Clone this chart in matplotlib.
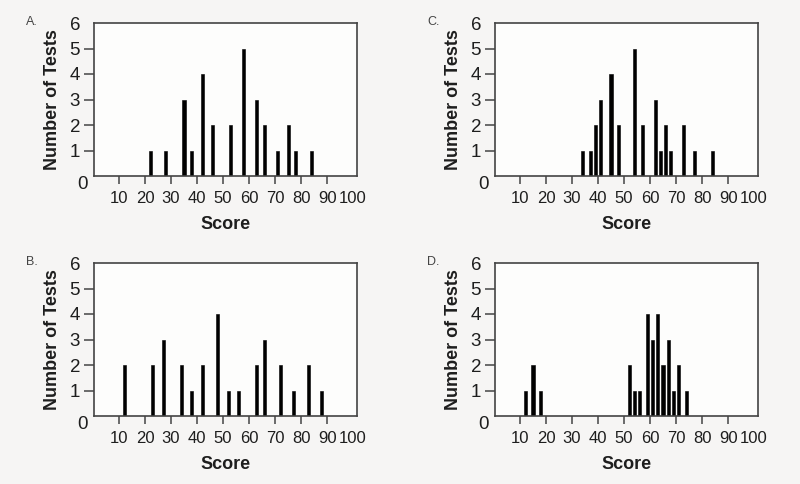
import matplotlib
matplotlib.use("Agg")
import matplotlib.pyplot as plt

plt.rcParams["font.family"] = ["Liberation Sans", "DejaVu Sans"]

# panel data: score of each bar and number of tests at that score
scores_a = [22, 28, 35, 38, 42, 46, 53, 58, 63, 66, 71, 75, 78, 84]
counts_a = [1, 1, 3, 1, 4, 2, 2, 5, 3, 2, 1, 2, 1, 1]

scores_b = [12, 23, 27, 34, 38, 42, 48, 52, 56, 63, 66, 72, 77, 83, 88]
counts_b = [2, 2, 3, 2, 1, 2, 4, 1, 1, 2, 3, 2, 1, 2, 1]

scores_c = [34, 37, 39, 41, 45, 48, 54, 57, 62, 64, 66, 68, 73, 77, 84]
counts_c = [1, 1, 2, 3, 4, 2, 5, 2, 3, 1, 2, 1, 2, 1, 1]

scores_d = [12, 15, 18, 52, 54, 56, 59, 61, 63, 65, 67, 69, 71, 74]
counts_d = [1, 2, 1, 2, 1, 1, 4, 3, 4, 2, 3, 1, 2, 1]

x_ticks = [10, 20, 30, 40, 50, 60, 70, 80, 90, 100]
y_ticks = [1, 2, 3, 4, 5, 6]

W, H = 800, 484
fig = plt.figure(figsize=(8, 4.84), dpi=100, facecolor="#f6f5f4")

panels = [
    ("A.", scores_a, counts_a, (94, 23)),
    ("C.", scores_c, counts_c, (495, 23)),
    ("B.", scores_b, counts_b, (94, 263)),
    ("D.", scores_d, counts_d, (495, 263)),
]

ink = "#1e1e1e"

for letter, scores, counts, (px, py) in panels:
    aw, ah = 263, 153
    ax = fig.add_axes([px / W, 1 - (py + ah) / H, aw / W, ah / H])
    ax.set_facecolor("#fdfdfc")
    ax.bar(scores, counts, width=1.2, color="black", edgecolor="black", linewidth=0.4)
    ax.set_xlim(0.4, 101.5)
    ax.set_ylim(0, 6)

    ax.set_xticks(x_ticks)
    ax.set_xticklabels([str(t) for t in x_ticks], fontsize=12, color=ink)
    ax.set_yticks(y_ticks)
    ax.set_yticklabels([str(t) for t in y_ticks], fontsize=13.5, color=ink)
    ax.tick_params(axis="x", length=6, width=1.1, color="#444444", pad=5)
    ax.tick_params(axis="y", length=7, width=1.1, color="#444444", pad=3)
    # no tick mark at 100 and 6
    ax.xaxis.get_major_ticks()[-1].tick1line.set_visible(False)
    ax.yaxis.get_major_ticks()[-1].tick1line.set_visible(False)

    for s in ax.spines.values():
        s.set_color("#444444")
        s.set_linewidth(1.2)

    # origin label at the corner
    ax.text(-4, -0.33, "0", fontsize=13.5, color=ink, ha="center", va="center",
            clip_on=False)

    ax.set_xlabel("Score", fontsize=13, fontweight="bold", color=ink, labelpad=7)
    ax.set_ylabel("Number of Tests", fontsize=13, fontweight="bold", color=ink,
                  labelpad=6)

    fig.text((px - 68) / W, 1 - (py - 1) / H, letter, fontsize=9, color="#444444",
             ha="left", va="center")

fig.savefig("out.png", dpi=100, facecolor=fig.get_facecolor())
